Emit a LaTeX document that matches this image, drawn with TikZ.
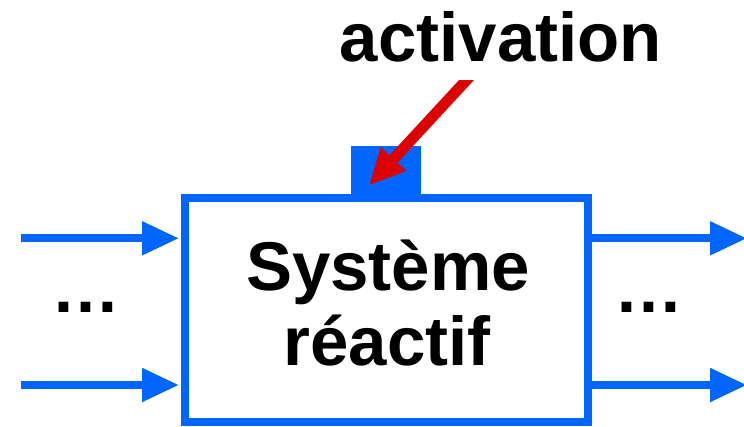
\documentclass[tikz,border=0pt]{standalone}
\usepackage{fontspec}
\setmainfont{Liberation Sans}
\usetikzlibrary{arrows.meta}
\definecolor{sysblue}{RGB}{0,102,255}
\definecolor{actred}{RGB}{221,0,0}
\tikzset{
  bigtext/.style={font=\fontsize{69}{77}\selectfont\bfseries, inner sep=0pt},
  flow/.style={draw=sysblue, line width=8pt, -{Triangle[length=37pt,width=32pt]}},
  trigger/.style={draw=actred, line width=11pt, -{Triangle[length=36pt,width=32pt]}},
}
\begin{document}
\begin{tikzpicture}[x=1pt,y=-1pt]
  \useasboundingbox (0,0) rectangle (744,426);

  % activation input (blue tab on top of the system)
  \node[fill=sysblue, inner sep=0pt, minimum width=70pt, minimum height=56pt, anchor=north west] (tab) at (351,146) {};

  % the reactive system
  \node[draw=sysblue, line width=8pt, fill=white, minimum width=403pt, minimum height=224.5pt,
        inner sep=0pt] (sys) at (386.5,309.75) {};
  \node[bigtext, anchor=base] (l1) at (388,290) {Système};
  \node[bigtext, anchor=base] (l2) at (387,365) {réactif};

  % activation label and its arrow
  \node[bigtext, anchor=base] (act) at (501,61) {activation};
  \coordinate (redtip) at (369,185.5);
  \coordinate (redstart) at (476.9,68.8);
  \begin{scope}
    \clip (300,80) rectangle (520,220);
    \draw[trigger] (redstart) -- (redtip);
  \end{scope}

  % inputs
  \coordinate (in1) at (21,238.3);
  \coordinate (in2) at (21,385);
  \draw[flow, shorten >=2pt] (in1) -- (in1 -| sys.west);
  \draw[flow, shorten >=2pt] (in2) -- (in2 -| sys.west);
  \node[bigtext, anchor=base] (indots) at (86,312) {…};

  % outputs
  \coordinate (out1) at (747,238.3);
  \coordinate (out2) at (747,385);
  \draw[flow] (out1 -| sys.east) -- (out1);
  \draw[flow] (out2 -| sys.east) -- (out2);
  \node[bigtext, anchor=base] (outdots) at (649,312) {…};
\end{tikzpicture}
\end{document}
